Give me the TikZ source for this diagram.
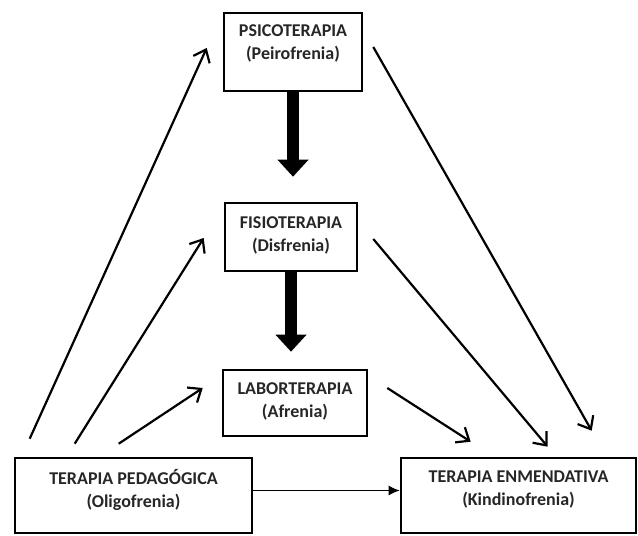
\documentclass[tikz,border=0pt]{standalone}
\usepackage{fontspec}
\setmainfont{Carlito}
\usetikzlibrary{arrows.meta,calc}

\tikzset{
  box/.style={draw=black, line width=2.6pt, rectangle, inner sep=0pt},
  lbl/.style={font=\fontsize{18}{23}\selectfont\bfseries, align=center,
              text=black!85, inner sep=0pt},
  thick arrow/.style={draw=black, line width=12pt,
              -{Triangle[width=30pt,length=17pt]}},
  link/.style={draw=black, line width=2.2pt,
              -{Straight Barb[length=11pt,width=18pt,line width=2.2pt]}},
  thin link/.style={draw=black, line width=1.2pt,
              -{Latex[length=11pt,width=10pt]}}
}

\begin{document}
\begin{tikzpicture}[x=1pt,y=-1pt]
  \useasboundingbox (0,0) rectangle (638,536);

  % boxes
  \node[box, minimum width=138pt, minimum height=78pt] (psico) at (293,52) {};
  \node[box, minimum width=132pt, minimum height=68pt] (fisio) at (291,237) {};
  \node[box, minimum width=144pt, minimum height=66pt] (labor) at (295,403) {};
  \node[box, minimum width=237pt, minimum height=75pt] (pedag) at (133.5,495.5) {};
  \node[box, minimum width=235pt, minimum height=75pt] (enmen) at (518.5,495.5) {};

  % box texts
  \node[lbl] (psicoT) at ($(psico)+(0,-9)$) {PSICOTERAPIA\\(Peirofrenia)};
  \node[lbl] (fisioT) at ($(fisio)+(0,-2)$) {FISIOTERAPIA\\(Disfrenia)};
  \node[lbl] (laborT) at ($(labor)+(0,-2)$) {LABORTERAPIA\\(Afrenia)};
  \node[lbl] (pedagT) at ($(pedag)+(0,-5.5)$) {TERAPIA PEDAGÓGICA\\(Oligofrenia)};
  \node[lbl] (enmenT) at ($(enmen)+(0,-6)$) {TERAPIA ENMENDATIVA\\(Kindinofrenia)};

  % heavy vertical arrows
  \draw[thick arrow, shorten >=25pt] (psico.south) -- (psico.south |- fisio.north);
  \draw[thick arrow, shorten >=17pt] (fisio.south) -- (fisio.south |- labor.north);

  % links from the pedagogical therapy
  \draw[link] ($(pedag.north west)+(16,-18)$) -- ($(psico.west)+(-16,-4)$);
  \draw[link] ($(pedag.north west)+(61,-13)$) -- ($(fisio.west)+(-20,1)$);
  \draw[link] ($(pedag.north west)+(105,-13)$) -- ($(labor.west)+(-19,-15)$);

  % links into the corrective therapy
  \draw[link] ($(psico.east)+(10,-5)$) -- ($(enmen.north west)+(192,-26)$);
  \draw[link] ($(fisio.east)+(15,2)$) -- ($(enmen.north west)+(148,-10)$);
  \draw[link] ($(labor.east)+(19,-15)$) -- ($(enmen.north west)+(71,-15)$);

  % direct link along the bottom
  \draw[thin link] ($(pedag.east)+(0,-5)$) -- ($(enmen.west)+(0,-5)$);
\end{tikzpicture}
\end{document}
